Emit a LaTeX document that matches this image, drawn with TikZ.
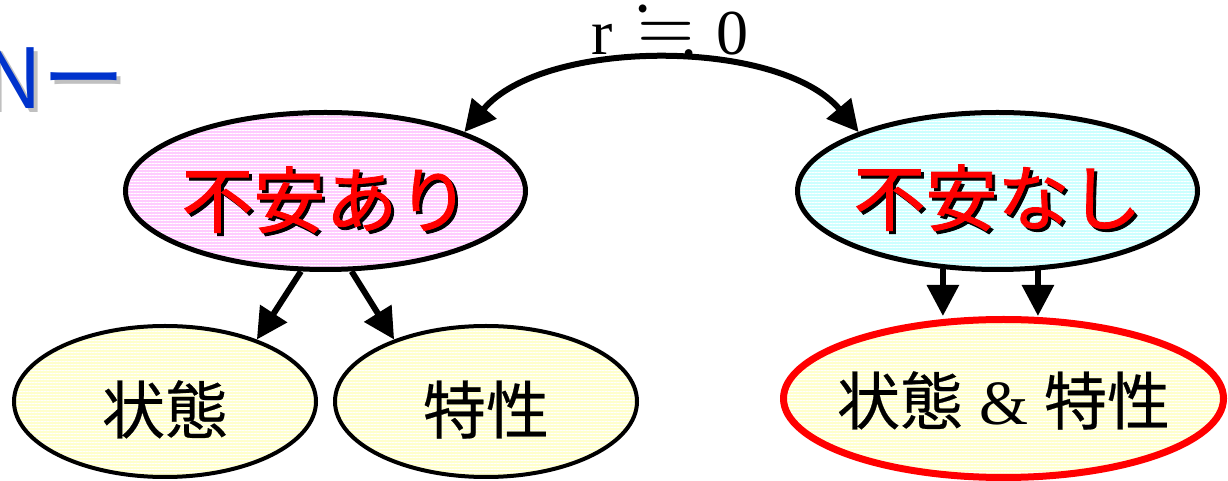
\documentclass[tikz,border=0pt]{standalone}
\usepackage{fontspec}
\setmainfont{Liberation Serif}
\newfontfamily\jp{Noto Sans CJK JP}
\newfontfamily\jpb{Noto Sans CJK JP}[FakeBold=1.2]
\newfontfamily\jpm{Noto Sans CJK JP}[FakeBold=0.4]
\usepackage{amssymb}
\usepackage{graphicx}
\usetikzlibrary{arrows.meta,patterns.meta,shapes.geometric}
\definecolor{pinkbg}{HTML}{FFCCFF}
\definecolor{cyanbg}{HTML}{CCFFFF}
\definecolor{yelbg}{HTML}{FFFFCC}
\definecolor{ttlblue}{HTML}{0033CC}
\definecolor{shgray}{HTML}{C0C0C0}
\definecolor{txtred}{HTML}{FF0000}
\newcommand\shtext[1]{\makebox[0pt][l]{\hspace{3pt}\raisebox{-3pt}{\color{black}#1}}{\color{txtred}#1}}
\newcommand\mytxt[2]{\makebox[0pt]{\raisebox{#1}[0pt][0pt]{#2}}}
\tikzset{
  stripes/.style={preaction={fill=#1},
    preaction={pattern={Lines[angle=0,distance=3pt,line width=0.9pt]}, pattern color=white}},
  bigoval/.style={ellipse, draw, line width=5pt, inner sep=0pt,
    minimum width=400pt, minimum height=157pt,
    font=\jpb\fontsize{72}{72}\selectfont},
  smalloval/.style={ellipse, draw, line width=4pt, inner sep=0pt,
    minimum width=302pt, minimum height=151pt, stripes=yelbg,
    font=\jpm\fontsize{63}{63}\selectfont},
  tip/.tip={Triangle[length=31pt,width=31pt]},
  arr/.style={line width=6pt, -tip},
  dblarr/.style={line width=6pt, tip-tip}
}
\begin{document}
\begin{tikzpicture}[x=1pt,y=1pt]
\useasboundingbox (0,0) rectangle (1228,481);
% title fragment
\node[anchor=base west, inner sep=0pt, font=\jp\fontsize{83}{83}\selectfont, text=ttlblue] (ttl) at (-18,372)
  {\makebox[0pt][l]{\hspace{4pt}\raisebox{-4pt}{\color{shgray}Nー}}Nー};
% main nodes
\node[bigoval, stripes=pinkbg] (a) at (325.5,290) {\mytxt{-36pt}{\shtext{不安あり}}};
\node[bigoval, stripes=cyanbg] (b) at (997.5,290) {\mytxt{-34pt}{\shtext{不安なし}}};
\node[smalloval] (s1) at (165,79.5) {\mytxt{-32pt}{状態}};
\node[smalloval] (s2) at (486,79.5) {\mytxt{-32pt}{特性}};
\node[ellipse, draw=txtred, line width=7pt, inner sep=0pt, minimum width=440pt, minimum height=158pt,
  stripes=yelbg, font=\jpm\fontsize{63}{63}\selectfont] (c) at (1003.5,82.5)
  {\mytxt{-26pt}{状態\hspace{16pt}{\rmfamily\&}\hspace{16pt}特性}};
% label
\node[anchor=base, inner sep=0pt, font=\fontsize{64}{64}\selectfont] (rlab) at (670,426)
  {r\hspace{24pt}\raisebox{4pt}{\scalebox{1.15}[1.2]{$\fallingdotseq$}}\hspace{22pt}0};
% connectors
\draw[dblarr] (a.23) to[out=50,in=130,looseness=0.8] (b.157);
\draw[arr] (a.253) -- (s1.34);
\draw[arr] (a.288) -- (s2.146);
\draw[arr] (b.235) -- (b.235 |- c.north);
\draw[arr] (b.297) -- (b.297 |- c.north);
\end{tikzpicture}
\end{document}
